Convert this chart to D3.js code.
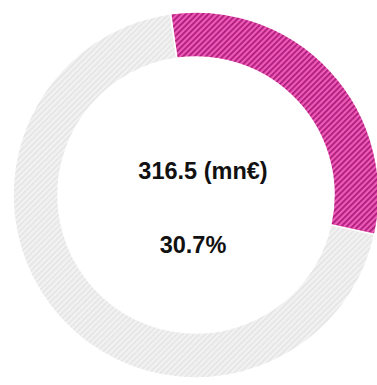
<!DOCTYPE html>
<html>
<head>
<meta charset="utf-8">
<script src="https://cdn.jsdelivr.net/npm/d3@7"></script>
<style>
  html, body { margin: 0; padding: 0; background: #fff; }
  svg { display: block; }
</style>
</head>
<body>
<div id="chart"></div>
<script>
// parts of the ring: share vs rest
var labels = ["share", "rest"];
var values = [30.7, 69.3];
var amountText = "316.5 (mn€)";
var percentText = "30.7%";

var width = 377,
  height = 385;

var svg = d3
  .select("#chart")
  .append("svg")
  .attr("width", width)
  .attr("height", height);

var defs = svg.append("defs");

// hatch patterns
function hatch(id, bg, fg, sw) {
  var p = defs
    .append("pattern")
    .attr("id", id)
    .attr("patternUnits", "userSpaceOnUse")
    .attr("width", 4)
    .attr("height", 4)
    .attr("patternTransform", "rotate(45)");
  p.append("rect").attr("width", 4).attr("height", 4).attr("fill", bg);
  p.append("rect").attr("width", sw).attr("height", 4).attr("fill", fg);
}
hatch("hatchPink", "#ef5ab5", "#a8197a", 1.7);
hatch("hatchGray", "#f2f2f2", "#e4e4e4", 1.6);

var cx = 196,
  cy = 195,
  outer = 183,
  inner = 138;

var pie = d3
  .pie()
  .sort(null)
  .value(function (d) {
    return d;
  })
  .startAngle(-0.14)
  .endAngle(-0.14 + 2 * Math.PI);

var arc = d3.arc().innerRadius(inner).outerRadius(outer);

var g = svg.append("g").attr("transform", "translate(" + cx + "," + cy + ")");

g.selectAll("path")
  .data(pie(values))
  .enter()
  .append("path")
  .attr("d", arc)
  .attr("fill", function (d, i) {
    return i === 0 ? "url(#hatchPink)" : "url(#hatchGray)";
  })
  .attr("stroke", "#fff")
  .attr("stroke-width", 1.5);

g.append("text")
  .attr("x", 7)
  .attr("y", -16)
  .attr("text-anchor", "middle")
  .style("font-family", "'Liberation Sans', Arial, sans-serif")
  .style("font-weight", "bold")
  .style("font-size", "23.5px")
  .style("fill", "#111")
  .text(amountText);

g.append("text")
  .attr("x", -3)
  .attr("y", 58)
  .attr("text-anchor", "middle")
  .style("font-family", "'Liberation Sans', Arial, sans-serif")
  .style("font-weight", "bold")
  .style("font-size", "23.5px")
  .style("fill", "#111")
  .text(percentText);
</script>
</body>
</html>
